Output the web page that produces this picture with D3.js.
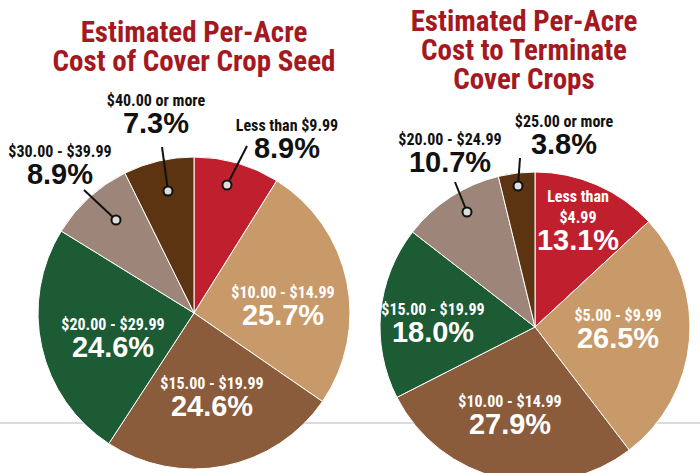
<!DOCTYPE html>
<html><head><meta charset="utf-8">
<script src="https://cdn.jsdelivr.net/npm/d3@7"></script>
<style>body{margin:0;background:#fff}</style></head>
<body><svg id="c" width="700" height="473"></svg>
<script>
const seedCats = ["Less than $9.99","$10.00 - $14.99","$15.00 - $19.99","$20.00 - $29.99","$30.00 - $39.99","$40.00 or more"];
const seedVals = [8.9,25.7,24.6,24.6,8.9,7.3];
const termCats = ["Less than|$4.99","$5.00 - $9.99","$10.00 - $14.99","$15.00 - $19.99","$20.00 - $24.99","$25.00 or more"];
const termVals = [13.1,26.5,27.9,18.0,10.7,3.8];
const colors = ["#c01f2e","#c99a69","#8a5c3b","#1c5b34","#9d8679","#5c3411"];

const seedLayout = [
 {x:287,y:131,dot:[227,185],lineEnd:[247,146],inside:false},
 {x:283,y:298,inside:true},
 {x:212,y:389,inside:true},
 {x:113,y:330,inside:true},
 {x:60,y:157,dot:[116,220],lineEnd:[84,190],inside:false},
 {x:156,y:106,dot:[168,191],lineEnd:[162,147],inside:false}
];
const termLayout = [
 {x:578,y:223,inside:true},
 {x:618,y:321,inside:true},
 {x:510,y:407,inside:true},
 {x:433,y:315,inside:true},
 {x:450,y:145,dot:[467,212],lineEnd:[455,182],inside:false},
 {x:564,y:127,dot:[518,186],lineEnd:[520,158],inside:false}
];

const svg = d3.select("#c");
svg.append("line").attr("x1",0).attr("x2",700).attr("y1",423).attr("y2",423).attr("stroke","#cfcfcf").attr("stroke-width",1.5);
const FONT = "'Liberation Sans Narrow','Roboto Condensed','DejaVu Sans Condensed',sans-serif";

function title(lines, cx, y0){
  const t = svg.append("text").attr("text-anchor","middle").attr("fill","#a4191f")
    .style("font-family",FONT).style("font-weight","bold").style("font-size","29px");
  lines.forEach((l,i)=>t.append("tspan").attr("x",cx).attr("y",y0+i*29).text(l));
}
title(["Estimated Per-Acre","Cost of Cover Crop Seed"],194,42);
title(["Estimated Per-Acre","Cost to Terminate","Cover Crops"],524,31);

function pie(cats, vals, layout, cx, cy, r){
  const g = svg.append("g").attr("transform",`translate(${cx},${cy})`);
  const arcs = d3.pie().sort(null)(vals);
  const arc = d3.arc().innerRadius(0).outerRadius(r);
  g.selectAll("path").data(arcs).join("path").attr("d",arc)
    .attr("fill",(d,i)=>colors[i]).attr("stroke","#fff").attr("stroke-width",1);
  layout.forEach((L,i)=>{
    const col = L.inside ? "#fff" : "#111";
    const lines = cats[i].split("|");
    const t = svg.append("text").attr("text-anchor","middle").attr("fill",col).style("font-family",FONT).style("font-weight","bold");
    lines.forEach((l,j)=>t.append("tspan").attr("x",L.x).attr("y",L.y+j*21-(lines.length-1)*21).style("font-size","16px").text(l));
    svg.append("text").attr("text-anchor","middle").attr("fill",col)
      .attr("x",L.x).attr("y",L.y+27).style("font-family","'Liberation Sans',Arial,sans-serif").style("font-weight","bold").style("font-size","29px")
      .text(vals[i].toFixed(1)+"%");
    if(L.dot){
      svg.append("line").attr("x1",L.dot[0]).attr("y1",L.dot[1]).attr("x2",L.lineEnd[0]).attr("y2",L.lineEnd[1]).attr("stroke","#111").attr("stroke-width",2);
      svg.append("circle").attr("cx",L.dot[0]).attr("cy",L.dot[1]).attr("r",4.5).attr("fill","#ddd").attr("stroke","#111").attr("stroke-width",2);
    }
  });
}
pie(seedCats, seedVals, seedLayout, 194, 313, 156);
pie(termCats, termVals, termLayout, 535, 327, 155);
</script></body></html>
